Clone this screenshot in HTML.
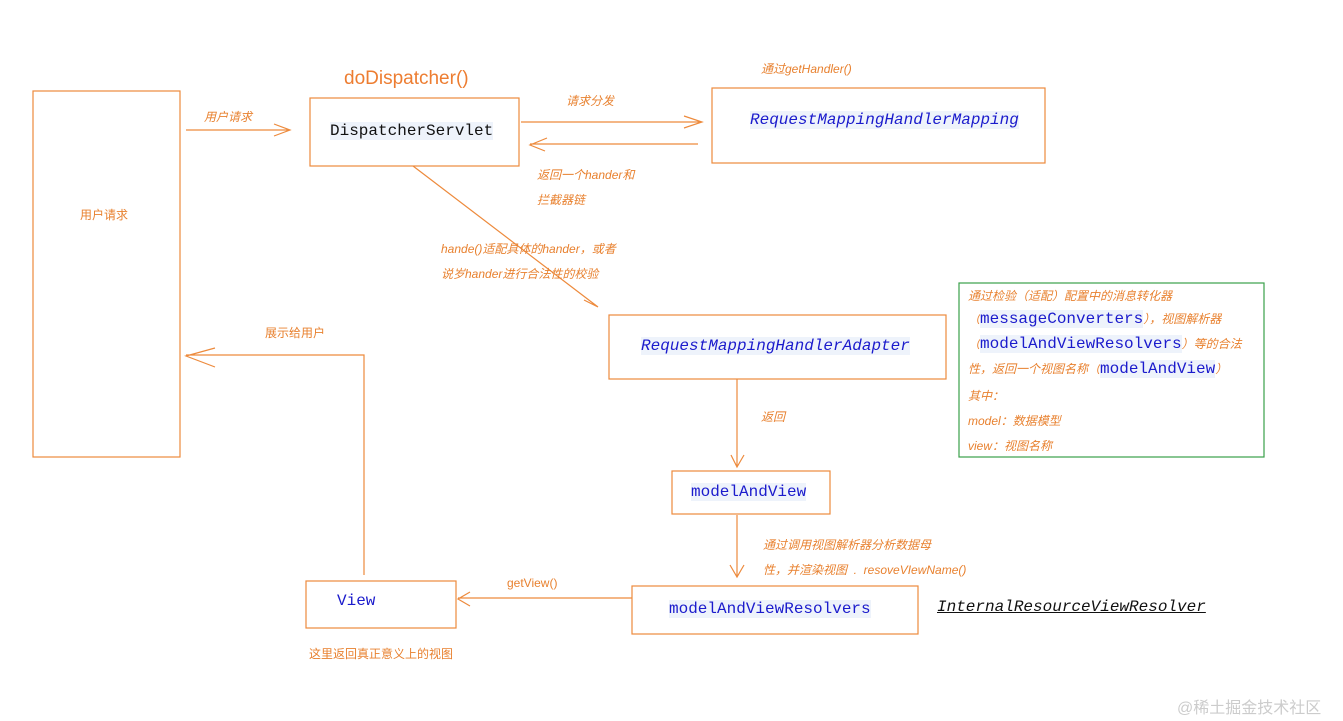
<!DOCTYPE html>
<html><head><meta charset="utf-8"><style>
body{margin:0;width:1343px;height:721px;background:#fff;position:relative;overflow:hidden;font-family:"Liberation Sans","Noto Sans CJK SC",sans-serif}
.t{position:absolute;color:#e8812f;font-size:12px;font-style:italic;white-space:nowrap}
.n{position:absolute;color:#e8812f;font-size:12px;white-space:nowrap}
.m{position:absolute;font-family:"Liberation Mono","DejaVu Sans Mono",monospace;font-size:16px;white-space:nowrap;background:#eef3fb}
.b{color:#1b1bcc}
.i{font-style:italic}
svg{position:absolute;left:0;top:0}
</style></head><body>
<svg width="1343" height="721" fill="none" stroke="#ed8a3c" stroke-width="1.2">
<rect x="33" y="91" width="147" height="366"/>
<rect x="310" y="98" width="209" height="68"/>
<rect x="712" y="88" width="333" height="75"/>
<rect x="609" y="315" width="337" height="64"/>
<rect x="959" y="283" width="305" height="174" stroke="#3aa04a"/>
<rect x="672" y="471" width="158" height="43"/>
<rect x="632" y="586" width="286" height="48"/>
<rect x="306" y="581" width="150" height="47"/>
<path d="M186 130H290M274 124L290 130L274 136"/>
<path d="M521 122H702M684 116L702 122L684 128"/>
<path d="M698 144H530M547 138L530 145L545 151"/>
<path d="M413 166L598 307M584 300L598 307"/>
<path d="M364 575V355H186M215 348L186 356L215 367"/>
<path d="M737 379V467M731 455L737 467L744 455"/>
<path d="M737 515V577M730 565L737 577L744 565"/>
<path d="M632 598H458M470 592L458 599L470 606"/>
</svg>
<div class="n" style="left:80px;top:206px">用户请求</div>
<div class="n" style="left:344px;top:68px;font-size:19px;color:#ed7d31">doDispatcher()</div>
<div class="t" style="left:204px;top:108px">用户请求</div>
<div class="m" style="left:330px;top:122px;color:#111">DispatcherServlet</div>
<div class="t" style="left:761px;top:60px">通过getHandler()</div>
<div class="t" style="left:566px;top:92px">请求分发</div>
<div class="m b i" style="left:750px;top:111px">RequestMappingHandlerMapping</div>
<div class="t" style="left:537px;top:166px">返回一个hander和</div>
<div class="t" style="left:537px;top:191px">拦截器链</div>
<div class="t" style="left:441px;top:240px">hande()适配具体的hander，或者</div>
<div class="t" style="left:441px;top:265px">说岁hander进行合法性的校验</div>
<div class="m b i" style="left:641px;top:337px">RequestMappingHandlerAdapter</div>
<div class="n" style="left:265px;top:324px">展示给用户</div>
<div class="t" style="left:968px;top:287px">通过检验（适配）配置中的消息转化器</div>
<div class="t" style="left:968px;top:310px">（<span class="m b" style="position:static;font-style:normal">messageConverters</span>），视图解析器</div>
<div class="t" style="left:968px;top:335px">（<span class="m b" style="position:static;font-style:normal">modelAndViewResolvers</span>）等的合法</div>
<div class="t" style="left:968px;top:360px">性，返回一个视图名称（<span class="m b" style="position:static;font-style:normal">modelAndView</span>）</div>
<div class="t" style="left:968px;top:387px">其中：</div>
<div class="t" style="left:968px;top:412px">model：数据模型</div>
<div class="t" style="left:968px;top:437px">view：视图名称</div>
<div class="t" style="left:761px;top:408px">返回</div>
<div class="m b" style="left:691px;top:483px">modelAndView</div>
<div class="t" style="left:763px;top:536px">通过调用视图解析器分析数据母</div>
<div class="t" style="left:763px;top:561px">性，并渲染视图 &nbsp;. &nbsp;resoveVIewName()</div>
<div class="m b" style="left:669px;top:600px">modelAndViewResolvers</div>
<div class="m i" style="left:937px;top:598px;background:none;color:#111;text-decoration:underline">InternalResourceViewResolver</div>
<div class="n" style="left:507px;top:576px">getView()</div>
<div class="m b" style="left:337px;top:592px;background:none">View</div>
<div class="n" style="left:309px;top:645px">这里返回真正意义上的视图</div>
<div class="n" style="left:1177px;top:694px;font-size:16px;color:#ccc">@稀土掘金技术社区</div>
</body></html>
